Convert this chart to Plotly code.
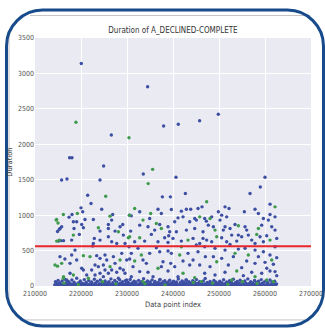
import plotly.graph_objects as go

# ---- data ----
title_text = "Duration of A_DECLINED-COMPLETE"
x_label = "Data point index"
y_label = "Duration"
x_ticks = [210000, 220000, 230000, 240000, 250000, 260000, 270000]
y_ticks = [0, 500, 1000, 1500, 2000, 2500, 3000, 3500]
mean_duration = 560

# scattered blue points (duration > ~80)
blue_x = [220070, 234480, 226590, 237960, 241150, 245780, 249850, 217520, 218040, 224910,
          233540, 215780, 216950, 224130, 240650, 260000, 258980,
          221450, 222180, 224500, 220000, 220370, 218050, 217400, 220870, 222690, 226890,
          226670, 225950, 218340, 219060, 220150, 215800, 215440, 218480, 220510, 224140,
          225950, 228490, 229070, 227400, 229210, 230520, 219640, 217970, 215070, 222900,
          224140, 225950, 226670, 227760, 222690, 229570, 222540, 218700, 215440, 217970,
          219060, 217610, 223410, 224140, 225220, 225590, 227040, 228850, 227400, 229940,
          223050, 223770, 224860, 220150, 220510, 222320, 225220, 226670, 228490, 229210,
          217610, 221240, 223050, 224140, 225950, 227760, 229570, 216890, 224860, 228120,
          229940, 214900, 215300, 215600, 216200, 216500,
          237690, 239430, 242690, 236740, 239640, 241820, 242910, 243850, 245440, 246310,
          230940, 232760, 237470, 234930, 241090, 242180, 244720, 246890, 232760, 234570,
          237110, 240370, 238920, 243630, 245080, 247260, 230800, 236020, 239280, 240730,
          242910, 244720, 246530, 235290, 238190, 239060, 240000, 244360, 246530, 231670,
          233840, 236740, 238920, 241820, 245810, 230440, 232390, 236380, 237110, 238920,
          245080, 246890, 230940, 234930, 239640, 243270, 245440, 230580, 233480, 234210,
          237830, 239500, 242180, 244360, 247040, 231310, 237470, 240370, 243630, 245810,
          232760, 234570, 238920, 246890, 230940, 235660, 241090, 237110, 242910,
          256750, 251310, 252180, 249860, 255510, 257830, 258560, 261090, 248410, 250580,
          251670, 250220, 253480, 255660, 259650, 260730, 262180, 247680, 248770, 251310,
          252400, 250950, 256020, 259280, 261460, 262180, 250580, 252760, 254210, 254930,
          256380, 258920, 260370, 262550, 247320, 248410, 251670, 252400, 253850, 257110,
          257830, 259650, 249130, 251310, 254210, 255660, 257830, 259650, 262180, 248770,
          250580, 253120, 258560, 261090, 262550, 256020, 257830, 260010, 261820, 248050,
          252030, 254930, 260370, 251310, 257110, 259280, 261090, 262180, 249130, 255300,
          262550, 261100]
blue_y = [3140, 2811, 2131, 2258, 2282, 2333, 2423, 1810, 1810, 1693,
          1580, 1496, 1510, 1496, 1534, 1534, 1398,
          1281, 1164, 1084, 1103, 1047, 1009, 972, 939, 939, 1009,
          930, 869, 906, 906, 869, 836, 812, 812, 822, 775,
          812, 836, 869, 775, 718, 1000, 728, 648, 634, 672,
          648, 695, 625, 601, 601, 601, 564, 507, 414, 437,
          367, 320, 428, 390, 437, 367, 414, 461, 320, 367,
          296, 273, 296, 250, 226, 226, 226, 226, 250, 226,
          179, 156, 156, 179, 179, 193, 179, 85, 132, 109,
          85, 770, 800, 640, 640, 380,
          1258, 1258, 1305, 1084, 1080, 1056, 1084, 1084, 1094, 1117,
          990, 1047, 1023, 953, 962, 976, 953, 953, 859, 836,
          869, 906, 836, 906, 930, 915, 775, 789, 765, 765,
          789, 812, 765, 728, 681, 709, 672, 672, 672, 625,
          634, 625, 615, 634, 601, 554, 531, 540, 484, 493,
          578, 554, 461, 461, 461, 461, 484, 381, 367, 320,
          343, 320, 353, 367, 414, 273, 273, 273, 296, 296,
          203, 193, 212, 179, 132, 132, 132, 85, 85,
          1305, 1117, 1094, 1047, 1047, 1084, 1023, 1009, 976, 1000,
          976, 930, 869, 836, 953, 930, 976, 859, 836, 836,
          812, 789, 789, 859, 836, 789, 681, 718, 718, 695,
          718, 695, 709, 672, 648, 625, 625, 587, 634, 648,
          601, 625, 531, 507, 521, 531, 507, 484, 554, 414,
          390, 414, 414, 437, 400, 353, 320, 334, 306, 273,
          296, 259, 250, 193, 193, 179, 212, 203, 156, 146,
          146, 1155]

# scattered green points
green_x = [218900, 230430, 235570, 234610,
           225370, 219210, 216160, 214710, 226310, 223770, 228120, 230300, 218340, 214710,
           220510, 214350, 215800, 221960, 228490, 226310, 218340, 216160, 221600,
           214600, 215000, 215300, 214900, 216200,
           231670, 230580, 235150, 233480, 245810, 236380, 237470, 230580, 232760, 243270,
           241820, 233120, 241460, 231670, 236740, 242180, 244720, 233480, 246170,
           247320, 262180, 248050, 254210, 249130, 258560, 249500, 258200, 261090, 253480,
           249500, 256380, 261460, 253850, 257830, 260370, 252760]
green_y = [2310, 2093, 1646, 1445,
           1267, 1023, 1009, 939, 986, 822, 765, 681, 718, 634,
           428, 296, 320, 414, 367, 273, 156, 109, 109,
           930, 890, 648, 280, 130,
           1094, 1000, 1023, 930, 976, 883, 812, 695, 681, 648,
           554, 437, 437, 353, 250, 179, 118, 62, 62,
           1188, 1117, 953, 850, 789, 812, 695, 728, 648, 461,
           343, 437, 367, 212, 132, 85, 85]

# dense band of short durations near zero
band_x = [214310, 214450, 214690, 214880, 215020, 215270, 215410, 215630, 215900, 216050,
          216230, 216470, 216600, 216850, 217010, 217260, 217390, 217610, 217880, 218020,
          218240, 218500, 218630, 218890, 219070, 219240, 219500, 219720, 219860, 220090,
          220310, 220480, 220720, 220900, 221130, 221310, 221550, 221700, 221960, 222150,
          222330, 222590, 222780, 222910, 223160, 223350, 223560, 223790, 223980, 224210,
          224400, 224600, 224830, 225010, 225260, 225420, 225690, 225850, 226090, 226280,
          226510, 226700, 226900, 227130, 227330, 227540, 227780, 227920, 228180, 228390,
          228560, 228800, 229010, 229230, 229390, 229650, 229850, 230060, 230290, 230510,
          230690, 230930, 231080, 231340, 231520, 231740, 231960, 232100, 232350, 232540,
          232780, 232960, 233170, 233380, 233600, 233810, 234020, 234210, 234450, 234620,
          234880, 235050, 235290, 235460, 235700, 235930, 236100, 236320, 236540, 236760,
          236950, 237180, 237400, 237570, 237830, 238000, 238230, 238440, 238620, 238870,
          239040, 239280, 239490, 239660, 239900, 240100, 240300, 240510, 240740, 240920,
          241160, 241330, 241570, 241790, 241980, 242190, 242400, 242600, 242830, 243020,
          243210, 243460, 243650, 243890, 244050, 244290, 244500, 244700, 244920, 245110,
          245350, 245540, 245760, 245960, 246170, 246400, 246600, 246810, 247010, 247240,
          247430, 247650, 247870, 248050, 248290, 248480, 248700, 248900, 249130, 249310,
          249560, 249750, 249960, 250170, 250370, 250590, 250800, 251000, 251230, 251420,
          251660, 251850, 252060, 252290, 252470, 252700, 252890, 253120, 253300, 253530,
          253710, 253950, 254140, 254370, 254580, 254770, 255000, 255190, 255420, 255610,
          255830, 256030, 256260, 256460, 256690, 256880, 257100, 257310, 257500, 257740,
          257920, 258150, 258340, 258580, 258770, 258990, 259190, 259410, 259600, 259830,
          260020, 260250, 260450, 260660, 260870, 261080, 261270, 261500, 261690, 261910,
          262100, 262330, 262520]
band_y = [20, 60, 5, 35, 80, 10, 45, 15, 70, 0,
          30, 95, 8, 50, 20, 65, 3, 40, 12, 85,
          25, 55, 5, 30, 110, 15, 48, 0, 72, 22,
          38, 6, 90, 28, 52, 2, 18, 76, 34, 10,
          58, 24, 4, 96, 42, 14, 66, 0, 32, 84,
          20, 50, 8, 36, 70, 12, 44, 2, 62, 26,
          100, 16, 46, 6, 78, 30, 54, 0, 22, 88,
          40, 10, 60, 28, 4, 74, 36, 14, 50, 2,
          92, 24, 44, 8, 68, 30, 56, 0, 20, 80,
          38, 12, 60, 26, 104, 6, 46, 18, 72, 34,
          2, 58, 22, 86, 10, 42, 64, 0, 28, 50,
          14, 94, 36, 4, 60, 20, 74, 40, 8, 52,
          26, 82, 0, 44, 16, 66, 32, 6, 56, 24,
          98, 12, 48, 2, 70, 30, 54, 10, 84, 38,
          0, 62, 20, 44, 6, 76, 28, 52, 14, 90,
          36, 2, 60, 22, 46, 8, 72, 30, 106, 16,
          50, 0, 34, 64, 12, 42, 4, 80, 26, 56,
          10, 38, 0, 68, 24, 48, 6, 88, 32, 14,
          58, 2, 40, 74, 18, 52, 8, 96, 30, 46,
          0, 64, 20, 36, 82, 10, 54, 28, 4, 70,
          40, 14, 100, 34, 6, 60, 22, 44, 0, 78,
          26, 50, 12, 66, 32, 2, 90, 38, 16, 56,
          6, 74, 28, 46, 0, 84, 20, 58, 10, 40,
          68, 4, 30]
# second, lower row of the dense band
band2_x = [214400, 214780, 215150, 215520, 215800, 216150, 216540, 216920, 217300, 217700,
           218100, 218380, 218760, 219150, 219600, 219950, 220400, 220800, 221200, 221600,
           222050, 222450, 222850, 223250, 223700, 224100, 224500, 224950, 225350, 225750,
           226200, 226600, 227000, 227450, 227850, 228300, 228700, 229100, 229500, 229950,
           230350, 230800, 231200, 231650, 232050, 232450, 232900, 233300, 233700, 234150,
           234550, 234950, 235350, 235800, 236200, 236650, 237050, 237450, 237900, 238300,
           238750, 239150, 239550, 240000, 240400, 240850, 241250, 241650, 242100, 242500,
           242950, 243350, 243750, 244200, 244600, 245050, 245450, 245850, 246300, 246700,
           247100, 247550, 247950, 248350, 248800, 249200, 249650, 250050, 250450, 250900,
           251300, 251700, 252150, 252550, 252950, 253400, 253800, 254250, 254650, 255050,
           255500, 255900, 256300, 256750, 257150, 257600, 258000, 258400, 258850, 259250,
           259700, 260100, 260500, 260950, 261350, 261750, 262200]
band2_y = [8, 15, 2, 25, 10, 0, 18, 5, 30, 12,
           3, 22, 9, 0, 16, 28, 4, 12, 20, 1,
           14, 26, 6, 18, 0, 10, 24, 3, 15, 8,
           30, 2, 20, 11, 0, 17, 6, 26, 13, 4,
           21, 0, 9, 28, 15, 3, 19, 7, 25, 12,
           0, 16, 5, 23, 10, 2, 27, 14, 6, 18,
           0, 22, 11, 4, 29, 13, 1, 17, 8, 24,
           3, 15, 0, 20, 9, 26, 12, 5, 18, 2,
           23, 10, 0, 16, 28, 6, 14, 3, 21, 9,
           0, 25, 13, 4, 19, 7, 30, 11, 1, 17,
           6, 22, 12, 0, 15, 27, 4, 10, 20, 2,
           14, 8, 24, 0, 18, 5, 12]
band_green_x = [216300, 219400, 224700, 227600, 233900, 238300, 244400, 248600, 251900,
                255100, 258300, 261800]
band_green_y = [40, 20, 60, 30, 30, 15, 50, 40, 25, 60, 35, 60]

# ---- figure ----
W, H = 325, 329
L, R, T, B = 35, 311, 37.5, 286
FONT = "Liberation Sans Narrow, DejaVu Sans Condensed, Arial Narrow, sans-serif"
BLUE = "#3D4FA3"
GREEN = "#3E9A4C"


def px(x):
    return (x - L) / (R - L)


def py(y):
    return (B - y) / (B - T)


fig = go.Figure()
fig.add_trace(go.Scatter(x=band2_x + band_x + blue_x, y=band2_y + band_y + blue_y,
                         mode="markers",
                         marker=dict(color=BLUE, size=3.4, line=dict(width=0)),
                         showlegend=False, hoverinfo="skip"))
fig.add_trace(go.Scatter(x=band_green_x + green_x, y=band_green_y + green_y, mode="markers",
                         marker=dict(color=GREEN, size=3.4, line=dict(width=0)),
                         showlegend=False, hoverinfo="skip"))
fig.add_hline(y=mean_duration, line=dict(color="#E8262B", width=2))

# decorative frame (rounded blue border + thin grey inner lines)
fl, fr, ft, fb, r = 6.5, 323.5, 9.5, 326, 36
k = 0.45 * r
path = (f"M {px(fl + r)},{py(ft)} L {px(fr - r)},{py(ft)} "
        f"C {px(fr - k)},{py(ft)} {px(fr)},{py(ft + k)} {px(fr)},{py(ft + r)} "
        f"L {px(fr)},{py(fb - r)} "
        f"C {px(fr)},{py(fb - k)} {px(fr - k)},{py(fb)} {px(fr - r)},{py(fb)} "
        f"L {px(fl + r)},{py(fb)} "
        f"C {px(fl + k)},{py(fb)} {px(fl)},{py(fb - k)} {px(fl)},{py(fb - r)} "
        f"L {px(fl)},{py(ft + r)} "
        f"C {px(fl)},{py(ft + k)} {px(fl + k)},{py(ft)} {px(fl + r)},{py(ft)} Z")
fig.add_shape(type="path", path=path, xref="paper", yref="paper",
              line=dict(color="#184B8C", width=3), fillcolor="rgba(0,0,0,0)", layer="above")
for (x0, y0, x1, y1) in [(30, 15, 310, 15), (9, 33, 9, 300), (20, 320, 305, 320)]:
    fig.add_shape(type="line", xref="paper", yref="paper",
                  x0=px(x0), y0=py(y0), x1=px(x1), y1=py(y1),
                  line=dict(color="#C4C4C4", width=1), layer="below")

axis_common = dict(showgrid=True, gridcolor="white", gridwidth=1, zeroline=False,
                   showline=False, ticks="", tickfont=dict(family=FONT, size=7, color="#555555"))
fig.update_layout(
    width=W, height=H,
    margin=dict(l=L, r=W - R, t=T, b=H - B, autoexpand=False),
    paper_bgcolor="white", plot_bgcolor="#EAEAF2",
    title=dict(text=title_text, x=px(173), xref="paper", xanchor="center",
               y=1 - 30 / H, yanchor="middle",
               font=dict(family=FONT, size=8, color="#333333")),
    xaxis=dict(range=[x_ticks[0], x_ticks[-1]], tickvals=x_ticks,
               ticktext=[str(v) for v in x_ticks], ticklabelstandoff=2,
               title=dict(text=x_label, font=dict(family=FONT, size=7.5, color="#444444"),
                          standoff=4),
               **axis_common),
    yaxis=dict(range=[y_ticks[0], y_ticks[-1]], tickvals=y_ticks,
               ticktext=[str(v) for v in y_ticks],
               title=dict(text=y_label, font=dict(family=FONT, size=7.5, color="#444444"),
                          standoff=4),
               **axis_common),
)

fig.write_html("out.html")
